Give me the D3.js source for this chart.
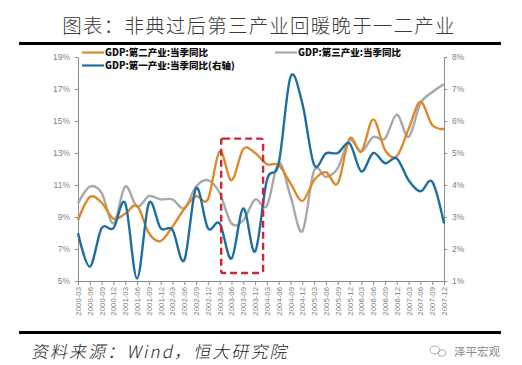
<!DOCTYPE html>
<html>
<head>
<meta charset="utf-8">
<script src="https://cdn.jsdelivr.net/npm/d3@7"></script>
<style>
  body { margin: 0; background: #fff; }
  svg { display: block; }
  .tick text { fill: #7f7f7f; }
</style>
</head>
<body>
<div id="chart"></div>
<script>
var svgWidth = 522;
var svgHeight = 365;

// quarters 2000-03 .. 2007-12
var quarters = [];
for (var yr = 2000; yr <= 2007; yr++) {
    ["03", "06", "09", "12"].forEach(function(m) { quarters.push(yr + "-" + m); });
}

// GDP 第二产业 当季同比 (left axis, %)
var secondary = [8.8, 10.25, 9.9, 8.9, 9.2, 9.7, 8.0, 7.5,
                 8.4, 9.5, 10.3, 10.1, 13.1, 11.3, 13.25, 13.0,
                 12.3, 12.25, 11.1, 10.0, 11.3, 11.8, 11.1, 13.9,
                 13.1, 15.1, 13.2, 12.8, 14.5, 16.2, 14.75, 14.5];

// GDP 第三产业 当季同比 (left axis, %)
var tertiary = [9.85, 10.9, 10.5, 8.6, 10.9, 9.65, 10.3, 10.1,
                10.1, 9.55, 10.9, 11.3, 10.5, 8.6, 8.8, 10.1,
                9.7, 12.4, 10.3, 8.1, 11.9, 11.5, 12.05, 13.8,
                13.1, 14.0, 13.9, 15.4, 14.0, 16.1, 16.8, 17.3];

// GDP 第一产业 当季同比 (right axis, %)
var primary = [2.5, 1.45, 2.65, 2.65, 3.43, 1.08, 3.43, 2.65,
               2.6, 1.65, 3.9, 2.65, 2.8, 1.7, 3.27, 1.92,
               4.15, 4.68, 7.38, 6.55, 4.63, 4.99, 5.0, 5.3,
               4.42, 5.0, 4.68, 4.83, 4.15, 3.8, 4.1, 2.8];

var leftTicks = [5, 7, 9, 11, 13, 15, 17, 19];
var rightTicks = [1, 2, 3, 4, 5, 6, 7, 8];

var legendNames = ["GDP:第二产业:当季同比", "GDP:第一产业:当季同比(右轴)", "GDP:第三产业:当季同比"];

var colors = { secondary: "#dc8a2c", tertiary: "#a9a9a9", primary: "#1f6f9e" };

var plot = { left: 78, right: 444, top: 57, bottom: 281 };

var svg = d3.select("#chart")
    .append("svg")
    .attr("width", svgWidth)
    .attr("height", svgHeight);

// title and rules
svg.append("text")
    .attr("x", 259)
    .attr("y", 33)
    .attr("text-anchor", "middle")
    .attr("font-family", "Noto Sans CJK SC")
    .attr("font-weight", 300)
    .attr("font-size", 19.5)
    .attr("letter-spacing", 1.2)
    .attr("fill", "#3a3a3a")
    .text("图表：非典过后第三产业回暖晚于一二产业");

svg.append("rect").attr("x", 19).attr("y", 42).attr("width", 482).attr("height", 3).attr("fill", "#000");
svg.append("rect").attr("x", 19).attr("y", 331).attr("width", 482).attr("height", 3).attr("fill", "#000");

var xScale = d3.scalePoint()
    .domain(quarters)
    .range([plot.left, plot.right]);

var yLeft = d3.scaleLinear()
    .domain([5, 19])
    .range([plot.bottom, plot.top]);

var yRight = d3.scaleLinear()
    .domain([1, 8])
    .range([plot.bottom, plot.top]);

var leftAxis = d3.axisLeft(yLeft)
    .tickValues(leftTicks)
    .tickSize(3)
    .tickPadding(5)
    .tickFormat(function(d) { return d + "%"; });

var rightAxis = d3.axisRight(yRight)
    .tickValues(rightTicks)
    .tickSize(3)
    .tickPadding(5)
    .tickFormat(function(d) { return d + "%"; });

var bottomAxis = d3.axisBottom(xScale)
    .tickSize(4)
    .tickPadding(3);

function styleAxis(g) {
    g.selectAll("path, line").attr("stroke", "#8c8c8c");
    g.selectAll("text")
        .attr("font-family", "Liberation Sans, Arial, sans-serif")
        .attr("font-size", 8.5);
}

svg.append("g")
    .attr("transform", "translate(" + plot.left + ",0)")
    .call(leftAxis)
    .call(styleAxis);

svg.append("g")
    .attr("transform", "translate(" + plot.right + ",0)")
    .call(rightAxis)
    .call(styleAxis);

var xAxis = svg.append("g")
    .attr("transform", "translate(0," + plot.bottom + ")")
    .call(bottomAxis)
    .call(styleAxis);

xAxis.selectAll("text")
    .attr("font-size", 7.8)
    .attr("fill", "#8c8c8c")
    .attr("text-anchor", "end")
    .attr("transform", "rotate(-90)")
    .attr("x", -6)
    .attr("y", 0)
    .attr("dy", "0.32em");

// lines
function drawLine(values, scale, color) {
    var line = d3.line()
        .x(function(d, i) { return xScale(quarters[i]); })
        .y(function(d) { return scale(d); })
        .curve(d3.curveCardinal);
    svg.append("path")
        .datum(values)
        .attr("fill", "none")
        .attr("stroke", color)
        .attr("stroke-width", 2.4)
        .attr("d", line);
}

drawLine(tertiary, yLeft, colors.tertiary);
drawLine(secondary, yLeft, colors.secondary);
drawLine(primary, yRight, colors.primary);

// SARS highlight box
svg.append("rect")
    .attr("x", xScale(quarters[12]) + 1.5)
    .attr("y", yLeft(13.9))
    .attr("width", xScale(quarters[15]) + 8 - xScale(quarters[12]) - 1.5)
    .attr("height", yLeft(5.5) - yLeft(13.9))
    .attr("rx", 2)
    .attr("fill", "none")
    .attr("stroke", "#c8283c")
    .attr("stroke-width", 2.4)
    .attr("stroke-dasharray", "7,4");

// legend
var legendItems = [
    { name: legendNames[0], color: colors.secondary, x: 82, y: 52.5 },
    { name: legendNames[1], color: colors.primary, x: 82, y: 65.5 },
    { name: legendNames[2], color: colors.tertiary, x: 275, y: 52.5 }
];

var legend = svg.selectAll("g.legend")
    .data(legendItems)
    .enter().append("g")
    .attr("class", "legend")
    .attr("transform", function(d) { return "translate(" + d.x + "," + d.y + ")"; });

legend.append("line")
    .attr("x1", 0).attr("x2", 22)
    .attr("stroke", function(d) { return d.color; })
    .attr("stroke-width", 2.2);

legend.append("text")
    .attr("x", 23)
    .attr("dy", "0.36em")
    .attr("font-family", "Noto Sans CJK SC")
    .attr("font-weight", 900)
    .attr("font-size", 9.5)
    .attr("fill", "#111")
    .text(function(d) { return d.name; });

// source line
svg.append("text")
    .attr("x", 33)
    .attr("y", 358)
    .attr("font-family", "Noto Sans CJK SC")
    .attr("font-weight", 300)
    .attr("font-size", 17)
    .attr("letter-spacing", 2.1)
    .attr("fill", "#222")
    .attr("transform", "skewX(-12) translate(74,0)")
    .text("资料来源：Wind，恒大研究院");

// watermark
var wm = svg.append("g").attr("transform", "translate(430,351)");
wm.append("ellipse").attr("cx", 5).attr("cy", -1).attr("rx", 5).attr("ry", 4).attr("fill", "none").attr("stroke", "#999").attr("stroke-width", 0.8);
wm.append("ellipse").attr("cx", 12).attr("cy", 2).attr("rx", 4).attr("ry", 3.3).attr("fill", "none").attr("stroke", "#999").attr("stroke-width", 0.8);
wm.append("text")
    .attr("x", 24)
    .attr("y", 5)
    .attr("font-family", "Noto Sans CJK SC")
    .attr("font-size", 11.5)
    .attr("fill", "#8a8a8a")
    .text("泽平宏观");
</script>
</body>
</html>
